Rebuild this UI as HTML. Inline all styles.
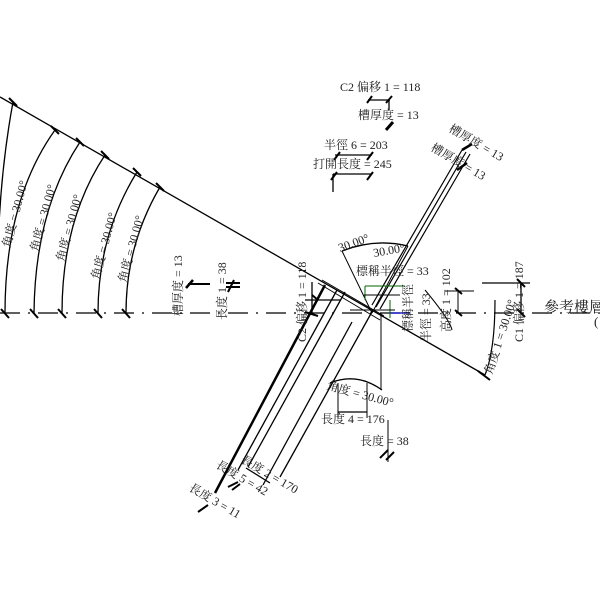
<!DOCTYPE html>
<html><head><meta charset="utf-8"><style>
html,body{margin:0;padding:0;background:#fff;width:600px;height:600px;overflow:hidden}
svg{display:block}
text{font-family:"Liberation Serif","Noto Serif CJK SC","Noto Sans CJK TC",serif;font-size:12px;fill:#222}
</style></head><body>
<svg width="600" height="600" viewBox="0 0 600 600" xmlns="http://www.w3.org/2000/svg">
<g stroke="#000" fill="none" stroke-width="1.3">
<line x1="0" y1="313" x2="600" y2="313" stroke-dasharray="20,8,2,8"/>
<line x1="0" y1="97" x2="485" y2="375"/>
<path d="M-2,313 Q-5,200 13,102"/>
<path d="M5,313 Q5,200 55,130"/>
<path d="M34,313 Q35,210 80,142"/>
<path d="M62,313 Q62,220 105,155"/>
<path d="M98,313 Q98,235 137,172"/>
<path d="M126,313 Q126,245 160,187"/>
<g stroke-width="2">
<line x1="9" y1="98" x2="17" y2="106"/>
<line x1="51" y1="126" x2="59" y2="134"/>
<line x1="76" y1="138" x2="84" y2="146"/>
<line x1="101" y1="151" x2="109" y2="159"/>
<line x1="133" y1="168" x2="141" y2="176"/>
<line x1="156" y1="183" x2="164" y2="191"/>
<line x1="1" y1="309" x2="9" y2="318"/>
<line x1="30" y1="309" x2="38" y2="318"/>
<line x1="58" y1="309" x2="66" y2="318"/>
<line x1="94" y1="309" x2="102" y2="318"/>
<line x1="122" y1="309" x2="130" y2="318"/>
</g>
<line x1="188" y1="284" x2="210" y2="284" stroke-width="2"/>
<line x1="186" y1="288" x2="193" y2="280" stroke-width="2.5"/>
<line x1="226" y1="283" x2="240" y2="283" stroke-width="2"/>
<line x1="226" y1="287" x2="240" y2="287" stroke-width="2"/>
<line x1="228" y1="292" x2="234" y2="280" stroke-width="2"/>
<line x1="215" y1="493" x2="325" y2="285" stroke-width="2.5"/>
<line x1="238" y1="470" x2="337" y2="290"/>
<line x1="248" y1="467" x2="345" y2="292"/>
<line x1="280" y1="477" x2="373" y2="310"/>
<line x1="263" y1="485" x2="352" y2="322"/>
<line x1="312" y1="282" x2="312" y2="313"/>
<line x1="305" y1="300" x2="340" y2="300"/>
<path d="M312,295 L318,300 M305,312 L318,316" stroke-width="2"/>
<path d="M318,283 L380,320" stroke-width="1"/>
<path d="M322,280 L384,316" stroke-width="1"/>
<line x1="372" y1="305" x2="462" y2="150" stroke-width="1.2"/>
<line x1="376" y1="307" x2="466" y2="152" stroke-width="1.2"/>
<line x1="380" y1="309" x2="470" y2="154" stroke-width="1.2"/>
<path d="M457,170 L467,163 M462,150 L472,144" stroke-width="2.5"/>
<path d="M342,251 L372,313 M372,313 L408,246" stroke-width="1"/>
<path d="M342,251 Q375,238 408,246" stroke-width="1.3"/>
<line x1="365" y1="286" x2="405" y2="286" stroke="#060" stroke-width="1"/>
<line x1="365" y1="286" x2="365" y2="300" stroke="#060" stroke-width="1"/>
<line x1="390" y1="313" x2="410" y2="313" stroke="#22c" stroke-width="1.5"/>
<line x1="390" y1="300" x2="390" y2="318" stroke="#060" stroke-width="1"/>
<line x1="350" y1="310" x2="395" y2="310" stroke-width="1"/>
<line x1="364" y1="295" x2="400" y2="295" stroke-width="1"/>
<line x1="381" y1="313" x2="381" y2="390" stroke-width="1"/>
<path d="M330,383 Q357,372 382,390" />
<line x1="338" y1="383" x2="338" y2="418" stroke-width="1"/>
<line x1="367" y1="383" x2="367" y2="418" stroke-width="1"/>
<line x1="338" y1="412" x2="367" y2="412"/>
<line x1="388" y1="420" x2="388" y2="462" stroke-width="1"/>
<path d="M380,458 L388,450 M386,460 L394,452" stroke-width="2"/>
<line x1="246" y1="468" x2="270" y2="483"/>
<path d="M228,487 L238,482 M232,490 L240,484 M198,512 L208,505" stroke-width="2"/>
<path d="M425,290 Q450,320 452,330" stroke-width="1"/>
<line x1="445" y1="291" x2="474" y2="291" stroke-width="1"/>
<line x1="458" y1="291" x2="458" y2="313" stroke-width="1"/>
<path d="M455,288 L462,294 M455,310 L462,316" stroke-width="2"/>
<line x1="482" y1="283" x2="530" y2="283"/>
<line x1="521" y1="283" x2="521" y2="313"/>
<path d="M517,279 L525,287 M517,309 L525,317" stroke-width="2"/>
<path d="M485,375 Q495,350 495,300" stroke-width="1.2"/>
<line x1="478" y1="371" x2="490" y2="380" stroke-width="2"/>
<line x1="368" y1="100" x2="390" y2="100"/>
<line x1="389" y1="100" x2="389" y2="110"/>
<path d="M367,103 L372,96 M386,103 L392,96" stroke-width="2"/>
<path d="M386,130 L393,122" stroke-width="3"/>
<line x1="335" y1="155" x2="372" y2="155"/>
<line x1="333" y1="174" x2="372" y2="174"/>
<line x1="333" y1="174" x2="333" y2="192"/>
<path d="M334,160 L340,152 M367,160 L373,152 M331,180 L337,172 M367,180 L373,172" stroke-width="2"/>
</g>
<g>
<text transform="translate(10,248) rotate(-75)">角度 = 30.00°</text>
<text transform="translate(38,252) rotate(-75)">角度 = 30.00°</text>
<text transform="translate(64,262) rotate(-75)">角度 = 30.00°</text>
<text transform="translate(99,280) rotate(-75)">角度 = 30.00°</text>
<text transform="translate(126,283) rotate(-75)">角度 = 30.00°</text>
<text transform="translate(182,316) rotate(-90)">槽厚度 = 13</text>
<text transform="translate(226,320) rotate(-90)">長度 1 = 38</text>
<text transform="translate(306,342) rotate(-90)">C2 偏移 1 = 118</text>
<text x="340" y="91">C2 偏移 1 = 118</text>
<text x="358" y="119">槽厚度 = 13</text>
<text x="324" y="149">半徑 6 = 203</text>
<text x="313" y="168">打開長度 = 245</text>
<text transform="translate(448,131) rotate(30)">槽厚度 = 13</text>
<text transform="translate(430,150) rotate(30)">槽厚度 = 13</text>
<text transform="translate(340,252) rotate(-20)">30.00°</text>
<text transform="translate(374,257) rotate(-10)">30.00°</text>
<text x="356" y="275">標稱半徑 = 33</text>
<text transform="translate(412,332) rotate(-90)">標稱半徑</text>
<text transform="translate(430,342) rotate(-90)">半徑 = 33</text>
<text transform="translate(450,332) rotate(-90)">高度 1 = 102</text>
<text transform="translate(523,342) rotate(-90)">C1 偏移 1 = 187</text>
<text transform="translate(492,375) rotate(-72)">角度 1 = 30.00°</text>
<text x="544" y="312" style="font-size:15px">參考樓層</text>
<text x="594" y="326" style="font-size:13px">(</text>
<text transform="translate(326,389) rotate(15)">角度 = 30.00°</text>
<text x="321" y="423">長度 4 = 176</text>
<text x="360" y="445">長度 = 38</text>
<text transform="translate(240,462) rotate(30)">長度 2 = 170</text>
<text transform="translate(215,467) rotate(30)">長度 5 = 42</text>
<text transform="translate(188,490) rotate(30)">長度 3 = 11</text>
</g>
</svg>
</body></html>
